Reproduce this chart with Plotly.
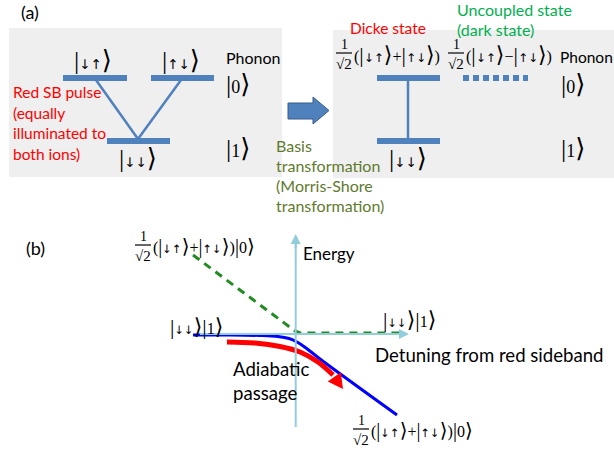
import plotly.graph_objects as go

W, H = 614, 456

SANS = "Lato"
SERIF = "Liberation Serif, DejaVu Serif, serif"
LEVEL_BLUE = "#4f81bd"
AXIS_BLUE = "#92cddc"

# ---------- panel (a) geometry ----------
boxes = [(9, 28, 282, 177), (333, 30, 614, 178)]          # gray backgrounds
levels_left = [(63, 127, 78), (151, 214, 78), (107, 170, 141)]   # x0, x1, y
couplings_left = [(96, 80, 138, 139), (181, 80, 138, 139)]
levels_right = [(377, 440, 78), (377, 440, 141)]
coupling_right = (408, 78, 408, 141)
dark_level = (463, 528, 78)

kets_a = [("↓↑", 93, 60), ("↑↓", 181, 60), ("↓↓", 138, 158), ("↓↓", 408, 158),
          ("0", 238, 84), ("1", 238, 148), ("0", 573, 84), ("1", 573, 148)]
red_pulse_lines = ["Red SB pulse", "(equally", "illuminated to", "both ions)"]
red_pulse_y = [92, 113, 133, 154]
basis_lines = ["Basis", "transformation", "(Morris-Shore", "transformation)"]
basis_y = [145, 165, 185, 205]

# ---------- panel (b) curves ----------
blue_x = [193, 230, 260, 278, 289, 297, 306, 320, 397]
blue_y = [335, 335, 335.5, 336.5, 338.5, 342, 348, 359, 415]
green_x = [193, 295, 300, 400]
green_y = [255, 331, 333, 333]
red_x = [227, 255, 280, 300, 318, 333, 343]
red_y = [342, 343, 346.5, 352, 362, 375, 389]

fig = go.Figure()

shapes = []
for x0, y0, x1, y1 in boxes:
    shapes.append(dict(type="rect", x0=x0, y0=y0, x1=x1, y1=y1,
                       fillcolor="#efefef", line=dict(width=0), layer="below"))
for x0, x1, y in levels_left + levels_right:
    shapes.append(dict(type="line", x0=x0, x1=x1, y0=y, y1=y,
                       line=dict(color=LEVEL_BLUE, width=6)))
for x0, y0, x1, y1 in couplings_left + [coupling_right]:
    shapes.append(dict(type="line", x0=x0, y0=y0, x1=x1, y1=y1,
                       line=dict(color=LEVEL_BLUE, width=2.5)))
x0, x1, y = dark_level
shapes.append(dict(type="line", x0=x0, x1=x1, y0=y, y1=y,
                   line=dict(color=LEVEL_BLUE, width=6, dash="6px,4px")))
# block arrow between the two bases
shapes.append(dict(type="path",
                   path="M 288 103 L 313 103 L 313 97 L 329 110.5 L 313 124 L 313 119 L 288 119 Z",
                   fillcolor=LEVEL_BLUE, line=dict(color="#385d8a", width=1)))

# energy / detuning axes
shapes.append(dict(type="line", x0=200, y0=334, x1=404, y1=334,
                   line=dict(color=AXIS_BLUE, width=2)))
shapes.append(dict(type="line", x0=295.7, y0=427, x1=295.7, y1=240,
                   line=dict(color=AXIS_BLUE, width=2)))

annotations = []


def text(t, x, y, size=17, color="black", family=SANS, xanchor="left"):
    annotations.append(dict(text=t, x=x, y=y, xref="x", yref="y", showarrow=False,
                            xanchor=xanchor, yanchor="middle",
                            font=dict(family=family, size=size, color=color)))


def ket(inner, big=24, arrow_size=None):
    """Dirac ket with tall delimiters; spin arrows drawn in DejaVu Sans."""
    if arrow_size:
        inner = (f'<span style="font-family:DejaVu Sans;font-size:{arrow_size}px">'
                 f'{inner}</span>')
    return (f'<span style="font-size:{big}px">|</span>{inner}'
            f'<span style="font-size:{big}px">⟩</span>')


def superposition(x, y, tail="", size=16, sign="+", big=22, arrows=12):
    """1/sqrt(2) prefactor followed by the ket expression, left edge at x."""
    text("1", x + 8, y - 10, size=14, family=SERIF, xanchor="center")
    shapes.append(dict(type="line", x0=x, x1=x + 16, y0=y - 1, y1=y - 1,
                       line=dict(color="black", width=1.2)))
    text("<b>√</b>2", x + 8, y + 10, size=15, family=SERIF, xanchor="center")
    body = f"({ket('↓↑', big, arrows)}{sign}{ket('↑↓', big, arrows)})" + tail
    text(body, x + 16, y, size=size, family=SERIF)


# panel (a) labels
text("(a)", 19, 12, size=18)
for t, x, y in kets_a:
    text(ket(t, 26, 13.5 if t in ("↓↑", "↑↓", "↓↓") else None), x, y,
         size=18, family=SERIF, xanchor="center")
text("Phonon", 224, 57, size=16)
text("Phonon", 558, 57, size=15.5)
for t, y in zip(red_pulse_lines, red_pulse_y):
    text(t, 11, y, size=15.5, color="#ff0000")
for t, y in zip(basis_lines, basis_y):
    text(t, 274, y, size=16, color="#5f7a2e")
text("Dicke state", 388, 28, size=15.5, color="#ff0000", xanchor="center")
text("Uncoupled state", 455, 9, size=16, color="#00b050")
text("(dark state)", 455, 29, size=16, color="#00b050")
superposition(336, 54)
superposition(448, 54, sign="−")

# panel (b) labels
text("(b)", 24, 248, size=18)
superposition(135, 246, tail=ket("0", 20), size=16, big=20, arrows=11.5)
superposition(353, 430, tail=ket("0", 20), size=16, big=20, arrows=11.5)
text(ket("↓↓", 22, 11.5) + ket("1", 22), 168, 326, size=16, family=SERIF)
text(ket("↓↓", 22, 11.5) + ket("1", 22), 381, 319, size=16, family=SERIF)
text("Energy", 301, 253)
text("Detuning from red sideband", 373, 355, size=18.6)
text("Adiabatic", 231, 369, size=18.6)
text("passage", 231, 393, size=18.6)

# vertical axis arrowhead
annotations.append(dict(x=295.7, y=234, ax=295.7, ay=250, xref="x", yref="y",
                        axref="x", ayref="y", text="", showarrow=True,
                        arrowhead=2, arrowsize=1, arrowwidth=2, arrowcolor=AXIS_BLUE))
# horizontal axis arrowhead
annotations.append(dict(x=409, y=334, ax=395, ay=334, xref="x", yref="y",
                        axref="x", ayref="y", text="", showarrow=True,
                        arrowhead=2, arrowsize=1, arrowwidth=2, arrowcolor=AXIS_BLUE))

fig.add_trace(go.Scatter(x=green_x, y=green_y, mode="lines", hoverinfo="skip",
                         line=dict(color="#228b22", width=3, dash="8px,6px")))
fig.add_trace(go.Scatter(x=blue_x, y=blue_y, mode="lines", hoverinfo="skip",
                         line=dict(color="#0000ff", width=3, shape="spline")))
fig.add_trace(go.Scatter(x=red_x[:-1], y=red_y[:-1], mode="lines", hoverinfo="skip",
                         line=dict(color="#ff0000", width=5, shape="spline")))
# red arrowhead along the last segment of the adiabatic path
ux, uy = red_x[-1] - red_x[-2], red_y[-1] - red_y[-2]
n = (ux ** 2 + uy ** 2) ** 0.5
ux, uy = ux / n, uy / n
tip = (red_x[-1], red_y[-1])
base = (tip[0] - 15 * ux, tip[1] - 15 * uy)
px, py = -uy, ux
shapes.append(dict(type="path",
                   path=(f"M {tip[0]} {tip[1]} L {base[0] + 8 * px} {base[1] + 8 * py} "
                         f"L {base[0] - 8 * px} {base[1] - 8 * py} Z"),
                   fillcolor="#ff0000", line=dict(width=0)))

fig.update_layout(
    width=W, height=H, margin=dict(l=0, r=0, t=0, b=0),
    paper_bgcolor="white", plot_bgcolor="white", showlegend=False,
    xaxis=dict(range=[0, W], visible=False, fixedrange=True),
    yaxis=dict(range=[H, 0], visible=False, fixedrange=True),
    shapes=shapes, annotations=annotations,
)

fig.write_html("out.html")
